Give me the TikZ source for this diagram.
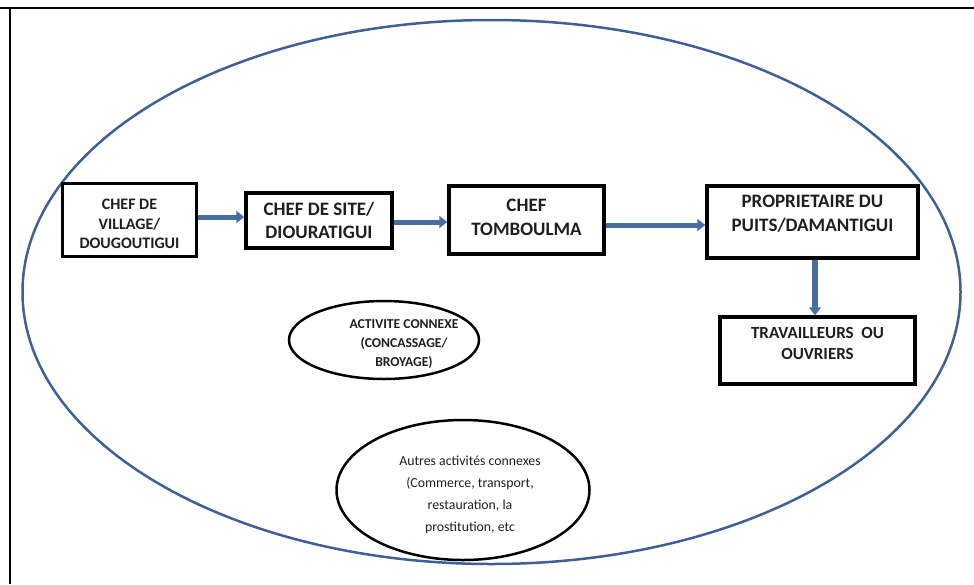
\documentclass[tikz,border=0pt]{standalone}
\usepackage{fontspec}
\setmainfont{Carlito}
\usepackage{xcolor}
\usepackage{tikz}
\usetikzlibrary{arrows.meta,shapes.geometric}

\definecolor{zoneblue}{RGB}{62,96,150}
\definecolor{flowblue}{RGB}{72,108,165}
\definecolor{inkgray}{RGB}{30,30,30}

\begin{document}
\begin{tikzpicture}[
    x=1pt, y=-1pt,
    role/.style={draw=black, line width=3.5pt, inner sep=0pt, align=center, text=inkgray,
                 font=\fontsize{19}{24.5}\selectfont\bfseries},
    activity/.style={draw=black, line width=2.5pt},
    actlbl/.style={inner sep=0pt, align=center, text=inkgray},
    flow/.style={draw=flowblue, line width=5pt, -{Triangle[length=8pt, width=12pt]}},
]
\useasboundingbox (0,0) rectangle (974,584);

% ========== Frame ==========
\draw[line width=2.5pt] (0,8) -- (974,8);
\draw[line width=2.5pt] (10,8) -- (10,584);

% Zone (big ellipse)
\draw[zoneblue, line width=2.5pt] (491.5,292) ellipse [x radius=469, y radius=272];

% ========== Chain of command ==========
\node[role, minimum width=134pt, minimum height=73pt, font=\fontsize{16}{19.5}\selectfont\bfseries] (village) at (129.5,220) {\rule{0pt}{19pt}CHEF DE\\VILLAGE/\\DOUGOUTIGUI};
\node[role, minimum width=146pt, minimum height=55pt, font=\fontsize{19}{23}\selectfont\bfseries] (site) at (319,220.5) {CHEF DE SITE/\\DIOURATIGUI};
\node[role, minimum width=155pt, minimum height=68pt] (tomboulma) at (526.5,220) {CHEF\\TOMBOULMA\rule[-5pt]{0pt}{0pt}};
\node[role, minimum width=211pt, minimum height=72pt] (owner) at (812.5,222) {PROPRIETAIRE DU\\PUITS/DAMANTIGUI\rule[-17pt]{0pt}{0pt}};
\node[role, minimum width=195pt, minimum height=67pt, font=\fontsize{17}{21.5}\selectfont\bfseries] (workers) at (817.5,350.5) {TRAVAILLEURS~ OU\\OUVRIERS\rule[-14pt]{0pt}{0pt}};

% Arrows
\draw[flow] (village.east |- 0,217) -- (site.west |- 0,217);
\draw[flow] (site.east |- 0,222) -- (tomboulma.west |- 0,222);
\draw[flow] (tomboulma.east |- 0,225) -- (owner.west |- 0,225);
\draw[flow, line width=6.5pt] (owner.south -| 815,0) -- (workers.north -| 815,0);

% ========== Related activities ==========
\draw[activity] (384,340) ellipse [x radius=95, y radius=39];
\node[actlbl, font=\fontsize{13.6}{19}\selectfont\bfseries] (crushing) at (404,344) {ACTIVITE CONNEXE\\(CONCASSAGE/\\BROYAGE)};

\draw[activity] (463,490) ellipse [x radius=126.5, y radius=70];
\node[actlbl, font=\fontsize{13.8}{22}\selectfont] (others) at (470,495) {Autres activités connexes\\(Commerce, transport,\\restauration, la\\prostitution, etc};

\end{tikzpicture}
\end{document}
